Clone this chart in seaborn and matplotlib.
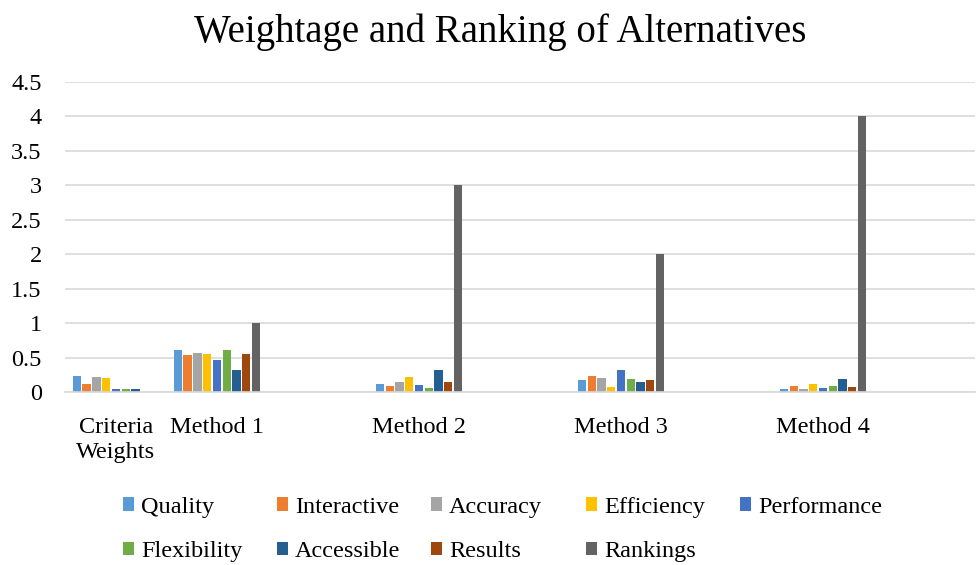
import numpy as np
import pandas as pd
import matplotlib
matplotlib.use("Agg")
import matplotlib.pyplot as plt
import seaborn as sns

# categories (blank slots keep the uneven spacing of the original sheet)
categories = ["Criteria\nWeights", "Method 1", " ", "Method 2", "  ", "Method 3", "   ", "Method 4", "    "]
series = ["Quality", "Interactive", "Accuracy", "Efficiency", "Performance",
          "Flexibility", "Accessible", "Results", "Rankings"]
colors = ["#5B9BD5", "#ED7D31", "#A5A5A5", "#FFC000", "#4472C4",
          "#70AD47", "#255E91", "#9E480E", "#636363"]

criteria_weights = [0.23, 0.115, 0.225, 0.21, 0.05, 0.05, 0.05, None, None]
method_1 = [0.62, 0.545, 0.57, 0.555, 0.47, 0.61, 0.32, 0.555, 1]
method_2 = [0.115, 0.09, 0.15, 0.22, 0.105, 0.07, 0.32, 0.155, 3]
method_3 = [0.18, 0.24, 0.21, 0.075, 0.32, 0.20, 0.15, 0.18, 2]
method_4 = [0.05, 0.09, 0.05, 0.12, 0.07, 0.09, 0.19, 0.075, 4]

rows = []
for cat, vals in zip(["Criteria\nWeights", "Method 1", "Method 2", "Method 3", "Method 4"],
                     [criteria_weights, method_1, method_2, method_3, method_4]):
    for s, v in zip(series, vals):
        if v is not None:
            rows.append({"cat": cat, "series": s, "value": v})
df = pd.DataFrame(rows)

sns.set_style("white")
plt.rcParams['font.family'] = ['Liberation Serif', 'DejaVu Serif']
plt.rcParams['text.color'] = 'black'
fs = 17.5

fig = plt.figure(figsize=(9.76, 5.65), dpi=100)
ax = fig.add_axes([0.067, 0.3056, 0.9315, 0.5496])

sns.barplot(data=df, x="cat", y="value", hue="series", order=categories,
            hue_order=series, palette=colors, width=0.87, gap=0.15,
            saturation=1, linewidth=0, ax=ax, legend=True)

ax.set_ylim(0, 4.5)
ax.set_yticks(np.arange(0, 4.51, 0.5))
ax.set_yticklabels(["0", "0.5", "1", "1.5", "2", "2.5", "3", "3.5", "4", "4.5"])
ax.yaxis.grid(True, color="#D9D9D9", linewidth=1.2)
ax.set_axisbelow(True)
for side in ["top", "right", "left"]:
    ax.spines[side].set_visible(False)
ax.spines["bottom"].set_color("#D9D9D9")
ax.spines["bottom"].set_linewidth(1.2)
ax.tick_params(axis="both", length=0, labelsize=fs, labelcolor="black")
ax.tick_params(axis="y", pad=17)
ax.tick_params(axis="x", pad=18)
ax.set_xlabel("")
ax.set_ylabel("")

fig.suptitle("Weightage and Ranking of Alternatives", fontsize=28, x=0.512, y=0.977,
             color="black")

# Excel-style legend: equal-width columns, filled row by row
handles, labels = ax.get_legend_handles_labels()
ax.get_legend().remove()
col_x = [123, 277, 431, 586, 740]
for i, x in enumerate(col_x):
    idx = [j for j in (i, i + 5) if j < len(labels)]
    leg = fig.legend([handles[j] for j in idx], [labels[j] for j in idx],
                     loc="upper left", bbox_to_anchor=(x / 976, 0.121),
                     frameon=False, fontsize=fs, handlelength=0.45, handleheight=0.45,
                     handletextpad=0.3, borderpad=0, borderaxespad=0, labelspacing=0.95,
                     labelcolor="black")

fig.savefig("out.png", dpi=100)
